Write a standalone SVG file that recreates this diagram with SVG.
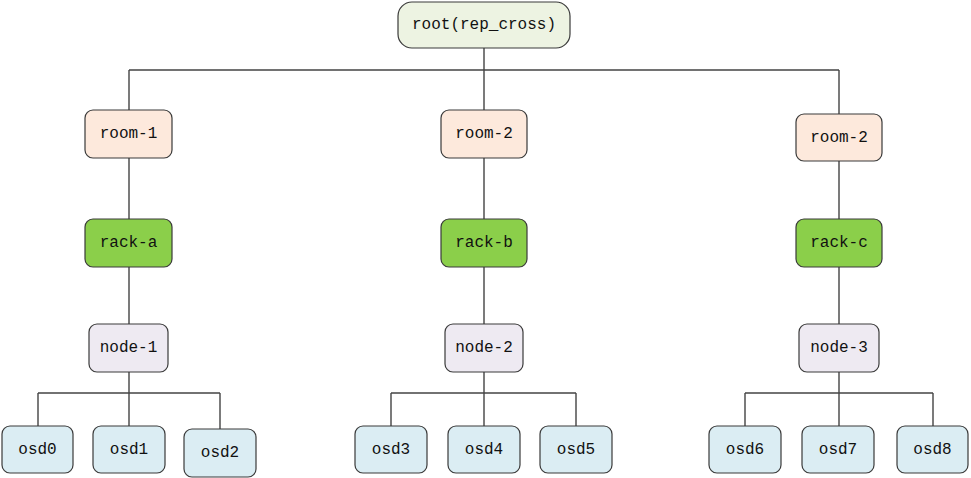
<svg xmlns="http://www.w3.org/2000/svg" width="971" height="478" viewBox="0 0 971 478">
<style>
.n rect{stroke:#3a3a3a;stroke-width:1.2}
.n text{font-family:"Liberation Mono","DejaVu Sans Mono",monospace;font-size:16px;fill:#111;text-anchor:middle;dominant-baseline:central}
.root rect{fill:#edf3e2}
.room rect{fill:#fde9dc}
.rack rect{fill:#8bcf4a}
.host rect{fill:#eeeaf2}
.osd rect{fill:#dbedf3}
#edges path{fill:none;stroke:#444;stroke-width:1.4}
</style>
<rect width="971" height="478" fill="#fff"/>
<g id="edges">
<path d="M484 48V70M129 70H839M129 70V110M484 70V110M839 70V114"/>
<path d="M129 158V219M484 158V219M839 161V219"/>
<path d="M129 267V324M484 267V324M839 267V324"/>
<path d="M129 372V393M38 393H220M38 393V426M129 393V426M220 393V429"/>
<path d="M484 372V393M391 393H576M391 393V426M484 393V426M576 393V426"/>
<path d="M839 372V393M745 393H933M745 393V426M839 393V426M933 393V426"/>
</g>
<g id="root" class="n root"><rect x="398" y="2" width="172" height="46" rx="14"/><text x="484" y="25">root(rep_cross)</text></g>
<g id="room1" class="n room"><rect x="85" y="110" width="87" height="48" rx="8"/><text x="128.5" y="134">room-1</text></g>
<g id="room2a" class="n room"><rect x="441" y="110" width="86" height="48" rx="8"/><text x="484" y="134">room-2</text></g>
<g id="room2b" class="n room"><rect x="796" y="114" width="86" height="47" rx="8"/><text x="839" y="137.5">room-2</text></g>
<g id="racka" class="n rack"><rect x="85" y="219" width="87" height="48" rx="8"/><text x="128.5" y="243">rack-a</text></g>
<g id="rackb" class="n rack"><rect x="441" y="219" width="86" height="48" rx="8"/><text x="484" y="243">rack-b</text></g>
<g id="rackc" class="n rack"><rect x="796" y="219" width="86" height="48" rx="8"/><text x="839" y="243">rack-c</text></g>
<g id="node1" class="n host"><rect x="89" y="324" width="79" height="48" rx="8"/><text x="128.5" y="348">node-1</text></g>
<g id="node2" class="n host"><rect x="445" y="324" width="78" height="48" rx="8"/><text x="484" y="348">node-2</text></g>
<g id="node3" class="n host"><rect x="799" y="324" width="80" height="48" rx="8"/><text x="839" y="348">node-3</text></g>
<g id="osd0" class="n osd"><rect x="2" y="426" width="71" height="47" rx="8"/><text x="37.5" y="449.5">osd0</text></g>
<g id="osd1" class="n osd"><rect x="93" y="426" width="72" height="47" rx="8"/><text x="129" y="449.5">osd1</text></g>
<g id="osd2" class="n osd"><rect x="184" y="429" width="72" height="48" rx="8"/><text x="220" y="453">osd2</text></g>
<g id="osd3" class="n osd"><rect x="355" y="426" width="72" height="47" rx="8"/><text x="391" y="449.5">osd3</text></g>
<g id="osd4" class="n osd"><rect x="448" y="426" width="72" height="47" rx="8"/><text x="484" y="449.5">osd4</text></g>
<g id="osd5" class="n osd"><rect x="540" y="426" width="72" height="47" rx="8"/><text x="576" y="449.5">osd5</text></g>
<g id="osd6" class="n osd"><rect x="709" y="426" width="72" height="47" rx="8"/><text x="745" y="449.5">osd6</text></g>
<g id="osd7" class="n osd"><rect x="802" y="426" width="72" height="47" rx="8"/><text x="838" y="449.5">osd7</text></g>
<g id="osd8" class="n osd"><rect x="897" y="426" width="71" height="47" rx="8"/><text x="932.5" y="449.5">osd8</text></g>
</svg>
